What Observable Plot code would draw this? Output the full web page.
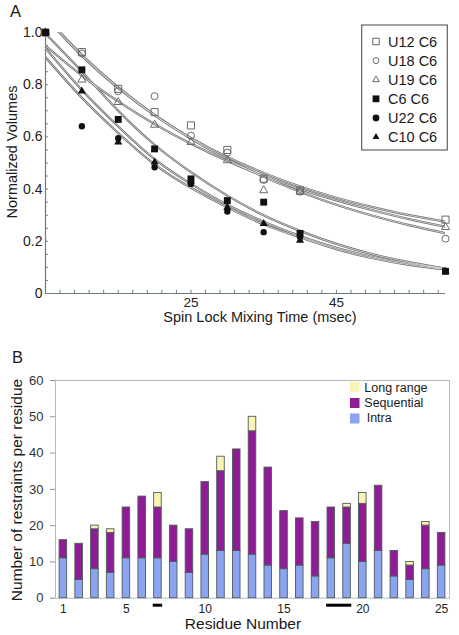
<!DOCTYPE html>
<html><head><meta charset="utf-8">
<script src="https://cdn.jsdelivr.net/npm/d3@7"></script>
<script src="https://cdn.jsdelivr.net/npm/@observablehq/plot@0.6"></script>
<style>
html,body{margin:0;padding:0;background:#fff;}
#fig{position:relative;width:459px;height:635px;overflow:hidden;font-family:"Liberation Sans",Arial,Helvetica,sans-serif;}
#fig svg{position:absolute;left:0;margin:0;}
</style></head><body><div id="fig"></div>
<script>
// ---------- Panel A data ----------
const mixTimes = [5, 10, 15, 20, 25, 30, 35, 40, 60];
const seriesNames = ["U12 C6", "U18 C6", "U19 C6", "C6 C6", "U22 C6", "C10 C6"];
const volU12 = [1.0, 0.925, 0.784, 0.695, 0.644, 0.55, 0.44, 0.395, 0.283];
const volU18 = [1.0, 0.92, 0.775, 0.756, 0.605, 0.54, 0.435, 0.39, 0.21];
const volU19 = [1.0, 0.819, 0.733, 0.646, 0.58, 0.51, 0.395, 0.39, 0.254];
const volC6  = [1.0, 0.857, 0.667, 0.554, 0.439, 0.356, 0.35, 0.23, 0.085];
const volU22 = [1.0, 0.641, 0.595, 0.484, 0.42, 0.314, 0.235, 0.216, 0.085];
const volC10 = [1.0, 0.775, 0.58, 0.503, 0.43, 0.33, 0.268, 0.203, 0.085];
// fitted decay curves at these times
const fitTimes = [5, 10, 15, 20, 25, 30, 35, 40, 45, 50, 55, 60];
const fitU12 = [1.057, 0.91, 0.787, 0.683, 0.596, 0.523, 0.462, 0.410, 0.367, 0.331, 0.300, 0.275];
const fitU18 = [1.060, 0.915, 0.791, 0.684, 0.593, 0.515, 0.447, 0.390, 0.340, 0.298, 0.262, 0.231];
const fitU19 = [0.949, 0.835, 0.736, 0.649, 0.574, 0.508, 0.450, 0.400, 0.357, 0.319, 0.285, 0.256];
const fitC6  = [0.995, 0.85, 0.70, 0.57, 0.465, 0.375, 0.30, 0.24, 0.19, 0.15, 0.12, 0.095];
const fitU22 = [0.905, 0.75, 0.615, 0.495, 0.405, 0.33, 0.265, 0.215, 0.17, 0.135, 0.11, 0.092];
const fitC10 = [0.94, 0.78, 0.64, 0.515, 0.42, 0.34, 0.275, 0.22, 0.175, 0.14, 0.115, 0.095];
const yTicksA = [0, 0.2, 0.4, 0.6, 0.8, 1.0];
const xTicksA = [25, 45];

// ---------- Panel B data ----------
const residues   = [1,2,3,4,5,6,7,8,9,10,11,12,13,14,15,16,17,18,19,20,21,22,23,24,25];
const intra      = [11,5,8,7,11,11,11,10,7,12,13,13,12,9,8,9,6,11,15,10,13,6,5,8,9];
const sequential = [5,10,11,11,14,17,14,10,12,20,22,28,34,27,16,13,15,14,10,16,18,7,4,12,9];
const longRange  = [0,0,1,1,0,0,4,0,0,0,4,0,4,0,0,0,0,0,1,3,0,0,1,1,0];
const typesB = ["Intra", "Sequential", "Long range"];
const legendB = ["Long range", "Sequential", "Intra"];
const underlines = [{from: 7, to: 7}, {from: 18, to: 19}];
const xTicksB = [1, 5, 10, 15, 20, 25];
const yTicksB = [0, 10, 20, 30, 40, 50, 60];

// ---------- styles ----------
const FONT = '"Liberation Sans", Arial, Helvetica, sans-serif';
const axisColA = "#6f7d7e";
const openCol = "#6a6a6a";
const fillCol = "#111";
const styleA = [
  {symbol: "square",   r: 4.0, fill: "none", stroke: openCol},
  {symbol: "circle",   r: 3.5, fill: "none", stroke: openCol},
  {symbol: "triangle", r: 3.0, fill: "none", stroke: openCol},
  {symbol: "square",   r: 3.9, fill: fillCol, stroke: "none"},
  {symbol: "circle",   r: 3.2, fill: fillCol, stroke: "none"},
  {symbol: "triangle", r: 3.0, fill: fillCol, stroke: "none"}
];
const colorsB = ["#8aa4f2", "#8f1b97", "#faf3b5"];
const barStroke = "#4f5d56";
const frameColB = "#b2bac2";

const fig = document.getElementById("fig");

// ---------- Panel A ----------
const volSeries = [volU12, volU18, volU19, volC6, volU22, volC10];
const fitSeries = [fitU12, fitU18, fitU19, fitC6, fitU22, fitC10];
const fitRows = [];
fitSeries.forEach((arr, s) => arr.forEach((v, i) => fitRows.push({series: seriesNames[s], t: fitTimes[i], v})));
const pointRows = volSeries.map((arr, s) => arr.map((v, i) => ({series: seriesNames[s], t: mixTimes[i], v})));
const minorXA = d3.range(5, 60.01, 2);
const minorYA = d3.range(0, 1.0001, 0.05);
const drawOrder = [0, 1, 2, 4, 5, 3];

const plotA = Plot.plot({
  width: 459, height: 330,
  marginTop: 32, marginBottom: 37, marginLeft: 45, marginRight: 14,
  x: {domain: [5, 60], label: null},
  y: {domain: [0, 1], label: null},
  style: {background: "transparent", fontFamily: FONT, fontSize: "14px", color: "#222", overflow: "visible"},
  marks: [
    Plot.ruleY(minorYA, {y: d => d, x1: 5, x2: 5.4, stroke: axisColA}),
    Plot.ruleX(minorXA, {x: d => d, y1: 0, y2: 0.012, stroke: axisColA}),
    Plot.ruleX([5], {stroke: axisColA, strokeWidth: 1.2}),
    Plot.ruleY([0], {stroke: axisColA, strokeWidth: 1.2}),
    Plot.axisY(yTicksA, {tickSize: 0, tickPadding: 3, fontSize: 14, fill: "#222", label: null,
      tickFormat: d => d === 0 ? "0" : d.toFixed(1)}),
    Plot.axisX(xTicksA, {tickSize: 0, tickPadding: 4, fontSize: 13.5, fill: "#222", label: null}),
    Plot.line(fitRows, {x: "t", y: "v", z: "series", curve: "natural", stroke: "#6a6a6a", strokeWidth: 2.2, clip: true}),
    Plot.line(fitRows, {x: "t", y: "v", z: "series", curve: "natural", stroke: "#f2f2f2", strokeWidth: 0.7, clip: true}),
    ...drawOrder.map(s => Plot.dot(pointRows[s], {x: "t", y: "v", ...styleA[s], strokeWidth: 1}))
  ]
});
plotA.style.top = "0px";
fig.appendChild(plotA);

// ---------- Panel B ----------
const rowsB = [];
residues.forEach((r, i) => {
  let base = 0;
  [intra[i], sequential[i], longRange[i]].forEach((n, k) => {
    if (n > 0) rowsB.push({residue: r, type: typesB[k], y1: base, y2: base + n});
    base += n;
  });
});
const halfW = 0.24;
const plotB = Plot.plot({
  width: 459, height: 305,
  marginTop: 50, marginBottom: 37.3, marginLeft: 55, marginRight: 10,
  x: {domain: [0.5, 25.5], label: null},
  y: {domain: [0, 60], label: null},
  color: {domain: typesB, range: colorsB},
  style: {background: "transparent", fontFamily: FONT, fontSize: "13px", color: "#222", overflow: "visible"},
  marks: [
    Plot.frame({stroke: frameColB}),
    Plot.rect(rowsB, {x1: d => d.residue - halfW, x2: d => d.residue + halfW, y1: "y1", y2: "y2",
      fill: "type", stroke: barStroke, strokeWidth: 0.9}),
    Plot.axisY(yTicksB, {tickSize: 5, tickPadding: 7, stroke: "#8d969c", fontSize: 13, fill: "#333", label: null}),
    Plot.axisX(xTicksB, {tickSize: 0, tickPadding: 6, fontSize: 12, fill: "#222", label: null}),
    Plot.ruleY(underlines, {x1: d => d.from - 0.3, x2: d => d.to + 0.3, y: 0, dy: 7, stroke: "#000", strokeWidth: 3})
  ]
});
plotB.style.top = "330px";
fig.appendChild(plotB);

// ---------- titles & legends overlay ----------
const ov = d3.select(fig).append("svg")
  .attr("width", 459).attr("height", 635)
  .style("top", "0px").style("pointer-events", "none")
  .attr("font-family", FONT).attr("fill", "#1a1a1a");

ov.append("text").attr("x", 10).attr("y", 16.7).attr("font-size", 16.5).text("A");
ov.append("text").attr("transform", "translate(16.5,152) rotate(-90)").attr("text-anchor", "middle")
  .attr("font-size", 14.5).text("Normalized Volumes");
ov.append("text").attr("x", 260).attr("y", 322).attr("text-anchor", "middle")
  .attr("font-size", 14.5).text("Spin Lock Mixing Time (msec)");

// legend A
ov.append("rect").attr("x", 361.7).attr("y", 25).attr("width", 85.6).attr("height", 125)
  .attr("fill", "#fff").attr("stroke", "#555").attr("stroke-width", 1.1);
const legSym = [
  {type: d3.symbolSquare, size: 42, fill: "none", stroke: openCol},
  {type: d3.symbolCircle, size: 28, fill: "none", stroke: openCol},
  {type: d3.symbolTriangle, size: 19, fill: "none", stroke: openCol},
  {type: d3.symbolSquare, size: 46, fill: fillCol, stroke: "none"},
  {type: d3.symbolCircle, size: 36, fill: fillCol, stroke: "none"},
  {type: d3.symbolTriangle, size: 21, fill: fillCol, stroke: "none"}
];
seriesNames.forEach((name, i) => {
  const by = 46.5 + i * 19.1;
  ov.append("path").attr("d", d3.symbol(legSym[i].type, legSym[i].size)())
    .attr("transform", `translate(376,${by - 5})`)
    .attr("fill", legSym[i].fill).attr("stroke", legSym[i].stroke).attr("stroke-width", 1);
  ov.append("text").attr("x", 388).attr("y", by).attr("font-size", 14.5).text(name);
});

ov.append("text").attr("x", 12).attr("y", 363).attr("font-size", 16.5).text("B");
ov.append("text").attr("transform", "translate(21.7,490) rotate(-90)").attr("text-anchor", "middle")
  .attr("font-size", 15.5).text("Number of restraints per residue");
ov.append("text").attr("x", 243).attr("y", 629.3).attr("text-anchor", "middle")
  .attr("font-size", 15.5).text("Residue Number");

// legend B
const legBy = [382, 398, 413.5];
const legTy = [392, 407, 421.8];
const legTx = [364.3, 364.3, 366.7];
legendB.forEach((name, i) => {
  const k = typesB.indexOf(name);
  ov.append("rect").attr("x", 350).attr("y", legBy[i]).attr("width", 9.5).attr("height", 10)
    .attr("fill", colorsB[k]);
  ov.append("text").attr("x", legTx[i]).attr("y", legTy[i]).attr("font-size", 12.5).text(name);
});
</script></body></html>
